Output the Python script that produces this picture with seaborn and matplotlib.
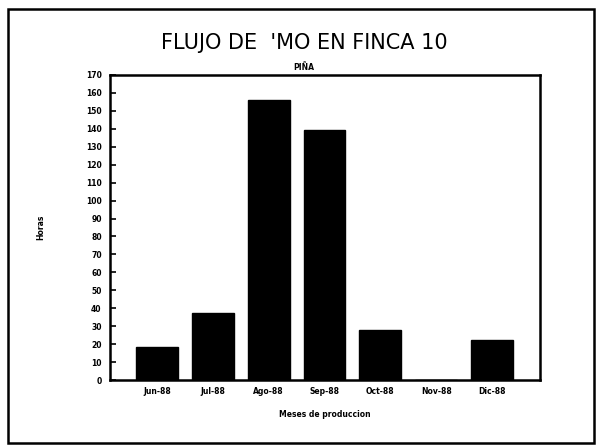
import matplotlib
matplotlib.use("Agg")
import matplotlib.pyplot as plt
import seaborn as sns
from matplotlib.patches import Rectangle

# --- datos ---
meses = ["Jun-88", "Jul-88", "Ago-88", "Sep-88", "Oct-88", "Nov-88", "Dic-88"]
horas = [18.6, 37.3, 156, 139.4, 27.6, 0, 22.4]
y_ticks = list(range(0, 171, 10))

sns.set_style("white")
plt.rcParams['font.family'] = ['DejaVu Sans']
plt.rcParams['text.color'] = 'black'
plt.rcParams['axes.labelcolor'] = 'black'
plt.rcParams['xtick.color'] = 'black'
plt.rcParams['ytick.color'] = 'black'

fig = plt.figure(figsize=(5.97, 4.45), dpi=100)
ax = fig.add_axes([110 / 597, 1 - 380 / 445, 430 / 597, 305 / 445])

sns.barplot(x=meses, y=horas, color="black", saturation=1, width=0.75,
            edgecolor="black", ax=ax)

ax.set_ylim(0, 170)
ax.set_xlim(-0.84, 6.86)
ax.set_yticks(y_ticks)
ax.set_yticklabels([str(t) for t in y_ticks], fontsize=5.5, fontweight="bold")
ax.set_xticks(range(len(meses)))
ax.set_xticklabels(meses, fontsize=5.5, fontweight="bold")
ax.tick_params(axis="y", direction="in", length=4, width=1.2, pad=6, left=True)
ax.tick_params(axis="x", length=0, pad=5)
for s in ax.spines.values():
    s.set_linewidth(1.8)
    s.set_color("black")

ax.set_xlabel("Meses de produccion", fontsize=5.5, fontweight="bold", labelpad=10)
ax.set_ylabel("Horas", fontsize=5.5, fontweight="bold", labelpad=0)
ax.yaxis.set_label_coords(-0.15, 0.5)

fig.text(304 / 597, 1 - 43 / 445, "FLUJO DE  'MO EN FINCA 10", ha="center",
         va="center", fontsize=15, fontweight="medium", color="black")
fig.text(304 / 597, 1 - 67 / 445, "PIÑA", ha="center", va="center",
         fontsize=5.5, fontweight="bold")

# marco exterior
fig.patches.append(Rectangle((8 / 597, 2 / 445), 586 / 597, 434 / 445,
                             transform=fig.transFigure, fill=False,
                             edgecolor="black", linewidth=1.8))

fig.savefig("out.png", dpi=100)
